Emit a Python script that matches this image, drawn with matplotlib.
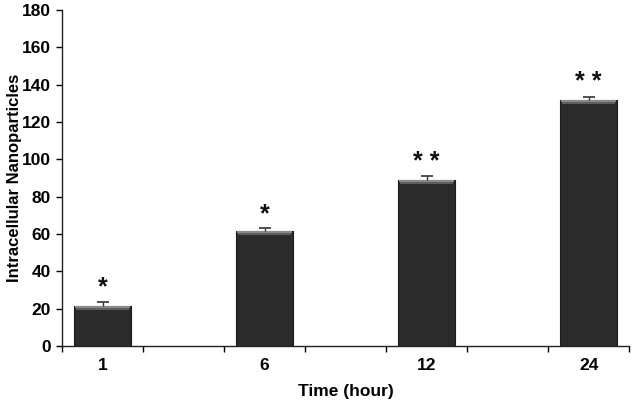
import matplotlib
matplotlib.use("Agg")
import matplotlib.pyplot as plt
import numpy as np

plt.rcParams['font.family'] = ['Liberation Sans', 'DejaVu Sans']

# Data
categories = ["1", "6", "12", "24"]
values = [21.5, 61.5, 89, 132]
errors = [2.0, 1.5, 2.0, 1.5]
stars = ["*", "*", "* *", "* *"]
y_ticks = [0, 20, 40, 60, 80, 100, 120, 140, 160, 180]

# Layout: 7 category slots, bars in slots 0, 2, 4, 6
slot_pos = np.arange(len(categories)) * 2

fig = plt.figure(figsize=(6.33, 4.05), dpi=100)
ax = fig.add_axes([0.098, 0.146, 0.896, 0.829])

bw = 0.70
ax.bar(slot_pos, values, width=bw, color="#2b2b2b", edgecolor="#1c1c1c",
       linewidth=0.8, zorder=2)
# bevel highlight at top of bars
band = 2.2
ax.bar(slot_pos, [band] * len(values), bottom=np.array(values) - band, width=bw * 0.94,
       color="#5e5e5e", linewidth=0, zorder=3)
ax.bar(slot_pos, [band * 0.45] * len(values), bottom=np.array(values) - band * 0.45,
       width=bw * 0.97, color="#8a8a8a", linewidth=0, zorder=3)

eb = ax.errorbar(slot_pos, values, yerr=[np.zeros(len(errors)), errors], fmt="none",
                 ecolor="#333333", elinewidth=1.0, capsize=4, capthick=1.2, zorder=4)
# hide the lower caps (only upper error shown)
caplines = eb[1]
if len(caplines) >= 1:
    caplines[0].set_visible(False)

for x, v, e, s in zip(slot_pos, values, errors, stars):
    ax.text(x, v + e + 4.0, s, ha="center", va="baseline", fontsize=18,
            fontweight="bold", color="#111111")

ax.set_xlim(-0.5, 6.5)
ax.set_ylim(0, 180)
ax.set_yticks(y_ticks)
ax.set_yticklabels([str(t) for t in y_ticks], fontsize=12.5, fontweight="bold")

ax.set_xticks(np.arange(-0.5, 6.6, 1.0))
ax.set_xticklabels([])
ax.set_xticks(slot_pos, minor=True)
ax.set_xticklabels(categories, minor=True, fontsize=12.5, fontweight="bold")
ax.tick_params(axis="x", which="minor", length=0, pad=9)
ax.tick_params(axis="x", which="major", length=4, width=1, direction="out")
ax.tick_params(axis="y", length=4, width=1, direction="out", pad=4)

for side in ["top", "right"]:
    ax.spines[side].set_visible(False)
for side in ["left", "bottom"]:
    ax.spines[side].set_linewidth(1.0)
    ax.spines[side].set_color("#222222")

ax.set_xlabel("Time (hour)", fontsize=12.5, fontweight="bold", labelpad=8)
ax.set_ylabel("Intracellular Nanoparticles", fontsize=12, fontweight="bold")
ax.yaxis.set_label_coords(-0.071, 0.5)

fig.savefig("out.png", dpi=100)
